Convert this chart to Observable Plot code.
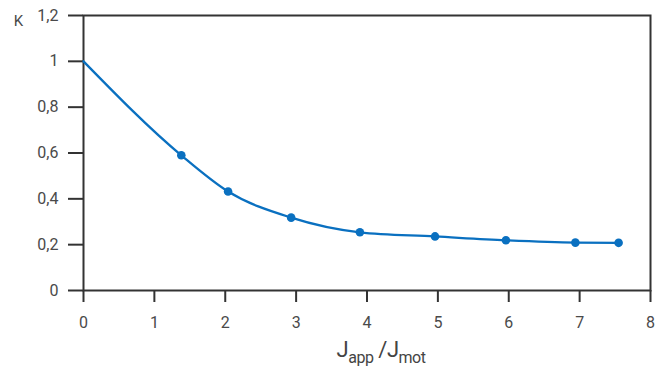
<!DOCTYPE html>
<html>
<head>
<meta charset="utf-8">
<script src="https://cdn.jsdelivr.net/npm/d3@7"></script>
<script src="https://cdn.jsdelivr.net/npm/@observablehq/plot@0.6"></script>
<style>
  html, body { margin: 0; padding: 0; background: #fff; }
  #wrap { position: relative; width: 668px; height: 376px; font-family: "Roboto", sans-serif; color: #444; }
  #xtitle { position: absolute; left: 0; width: 762px; top: 337px; text-align: center; font-size: 22px; letter-spacing: -0.5px; }
  #xtitle sub { font-size: 16px; vertical-align: -6px; }
</style>
</head>
<body>
<div id="wrap">
  <div id="chart"></div>
  <div id="xtitle">J<sub>app</sub> /J<sub>mot</sub></div>
</div>
<script>
const ratio = [0, 1.38, 2.04, 2.93, 3.9, 4.96, 5.96, 6.94, 7.55];
const kValues = [1.0, 0.59, 0.432, 0.318, 0.254, 0.236, 0.219, 0.209, 0.208];
const markerIndex = [1, 2, 3, 4, 5, 6, 7, 8];
const xTicks = [0, 1, 2, 3, 4, 5, 6, 7, 8];
const yTicks = [0, 0.2, 0.4, 0.6, 0.8, 1.0, 1.2];
const yLabel = "K";

const data = ratio.map((r, i) => ({x: r, y: kValues[i]}));
const markers = markerIndex.map(i => data[i]);
const blue = "#0a70c0";
const ink = "#333";

const chart = Plot.plot({
  width: 668,
  height: 338,
  marginLeft: 83,
  marginRight: 18,
  marginTop: 15,
  marginBottom: 48,
  style: {fontFamily: "Roboto, sans-serif", fontSize: "16px", color: "#4a4a4a", background: "#fff"},
  x: {domain: [0, 8]},
  y: {domain: [0, 1.2]},
  marks: [
    Plot.axisX({ticks: xTicks, tickSize: 12, tickPadding: 14, stroke: ink, strokeWidth: 2, strokeOpacity: 1, label: null, fontSize: 16}),
    Plot.axisY({ticks: yTicks, tickSize: 15, tickPadding: 10, stroke: ink, strokeWidth: 2, strokeOpacity: 1, label: null, fontSize: 16,
      tickFormat: d => String(d).replace(".", ",")}),
    Plot.frame({stroke: ink, strokeWidth: 2}),
    Plot.line(data, {x: "x", y: "y", curve: "monotone-x", stroke: blue, strokeWidth: 2.3}),
    Plot.dot(markers, {x: "x", y: "y", r: 4.3, fill: blue, stroke: "none"}),
    Plot.text([yLabel], {frameAnchor: "top-left", dx: -65, text: d => d, fontSize: 15, fill: "#4a4a4a", textAnchor: "middle"})
  ]
});
document.getElementById("chart").appendChild(chart);
</script>
</body>
</html>
